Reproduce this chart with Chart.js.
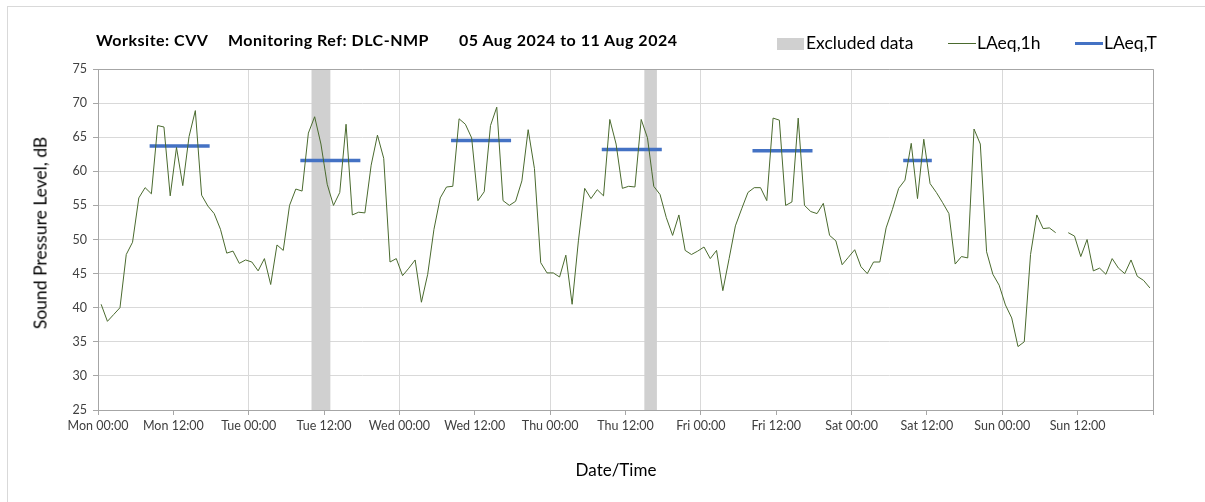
<!DOCTYPE html>
<html>
<head>
<meta charset="utf-8">
<script src="https://cdn.jsdelivr.net/npm/chart.js@4.4.1/dist/chart.umd.min.js"></script>
<style>
html, body { margin: 0; padding: 0; background: #fff; overflow: hidden; }
#wrap { position: relative; width: 1205px; height: 502px; font-family: Lato, "Open Sans", sans-serif; }
#frame { position: absolute; left: 7px; top: 6px; width: 1300px; height: 600px; border-left: 1px solid #d9d9d9; border-top: 1px solid #d9d9d9; }
#chart { position: absolute; left: 0; top: 0; }
.tt { position: absolute; top: 30px; font-size: 16px; font-weight: bold; letter-spacing: 0.5px; color: #000; white-space: pre; }
.lg { position: absolute; top: 32px; font-size: 17.5px; color: #000; white-space: pre; }
.sw { position: absolute; }
.ax { position: absolute; color: #000; white-space: pre; transform: translate(-50%, -50%); }
</style>
</head>
<body>
<div id="wrap">
  <div id="frame"></div>
  <canvas id="chart" width="1205" height="502"></canvas>
  <div class="tt" style="left:96px">Worksite: CVV</div>
  <div class="tt" style="left:228px">Monitoring Ref: DLC-NMP</div>
  <div class="tt" style="left:459px">05 Aug 2024 to 11 Aug 2024</div>
  <div class="sw" style="left:777px;top:38px;width:27px;height:12px;background:#d0d0d0"></div>
  <div class="lg" style="left:806px">Excluded data</div>
  <div class="sw" style="left:948px;top:43px;width:28px;height:1px;background:#4a6a2e"></div>
  <div class="lg" style="left:977px">LAeq,1h</div>
  <div class="sw" style="left:1075px;top:42px;width:28px;height:3px;background:#4472c4"></div>
  <div class="lg" style="left:1104px">LAeq,T</div>
  <div class="ax" style="left:40px;top:233px;font-size:17.5px;transform:translate(-50%,-50%) rotate(-90deg)">Sound Pressure Level, dB</div>
  <div class="ax" style="left:616px;top:469px;font-size:17px">Date/Time</div>
</div>
<script>
// hourly LAeq,1h values, Mon 00:00 .. Sun 23:00 (null = no data)
const laeq1h = [
  40.5, 38.0, 39.0, 40.0, 47.8, 49.6, 56.1, 57.6, 56.7, 66.7, 66.5, 56.4,
  63.5, 57.9, 65.1, 68.9, 56.5, 54.9, 53.8, 51.5, 48.0, 48.3, 46.5, 47.0,
  46.7, 45.4, 47.2, 43.4, 49.2, 48.4, 55.0, 57.4, 57.1, 65.6, 68.0, 64.0,
  58.1, 55.0, 56.9, 66.9, 53.6, 54.0, 53.9, 60.9, 65.3, 61.9, 46.7, 47.2,
  44.7, 45.8, 47.0, 40.8, 44.9, 51.5, 56.1, 57.7, 57.8, 67.7, 66.9, 64.9,
  55.7, 57.0, 66.7, 69.4, 55.7, 55.0, 55.6, 58.6, 66.1, 60.4, 46.6, 45.1,
  45.1, 44.5, 47.7, 40.5, 49.8, 57.5, 56.0, 57.3, 56.4, 67.6, 64.0, 57.5,
  57.8, 57.7, 67.6, 64.9, 57.8, 56.6, 53.2, 50.6, 53.6, 48.4, 47.8, 48.3,
  48.9, 47.2, 48.4, 42.5, 47.2, 52.0, 54.5, 56.9, 57.6, 57.6, 55.7, 67.8,
  67.5, 55.0, 55.5, 67.8, 55.0, 54.1, 53.8, 55.3, 50.6, 49.8, 46.3, 47.4,
  48.5, 46.0, 45.0, 46.7, 46.7, 51.7, 54.4, 57.5, 58.7, 64.1, 56.0, 64.7,
  58.2, 56.9, 55.4, 53.8, 46.4, 47.5, 47.3, 66.2, 64.0, 48.2, 44.9, 43.3,
  40.4, 38.5, 34.3, 35.0, 47.8, 53.6, 51.6, 51.7, 51.0, null, 51.0, 50.5,
  47.5, 50.0, 45.4, 45.8, 44.9, 47.2, 45.8, 45.0, 47.0, 44.6, 44.0, 42.9
];

// LAeq,T periods (hours from Mon 00:00) and levels
const ltStart = [8.5, 32.5, 56.5, 80.5, 104.5, 128.5];
const ltEnd   = [17.5, 41.5, 65.5, 89.5, 113.5, 132.5];
const ltValue = [63.7, 61.6, 64.5, 63.2, 63.0, 61.6];

// excluded periods (hours from Mon 00:00)
const exStart = [34, 87];
const exEnd   = [37, 89];

const days = ['Mon', 'Tue', 'Wed', 'Thu', 'Fri', 'Sat', 'Sun'];
const tickTimes = ['00:00', '12:00'];

const lineData = laeq1h.map(function(v, i) { return { x: i + 0.5, y: v }; });
const ltData = [];
ltStart.forEach(function(s, i) {
  ltData.push({ x: s, y: ltValue[i] });
  ltData.push({ x: ltEnd[i], y: ltValue[i] });
  ltData.push({ x: ltEnd[i] + 0.1, y: null });
});

const bandsPlugin = {
  id: 'bands',
  beforeDatasetsDraw: function(chart) {
    const ctx = chart.ctx, xs = chart.scales.x, a = chart.chartArea;
    ctx.save();
    ctx.fillStyle = '#d0d0d0';
    exStart.forEach(function(s, i) {
      const x1 = xs.getPixelForValue(s), x2 = xs.getPixelForValue(exEnd[i]);
      ctx.fillRect(x1, a.top, x2 - x1, a.bottom - a.top);
    });
    ctx.restore();
  },
  afterDraw: function(chart) {
    const ctx = chart.ctx, a = chart.chartArea;
    ctx.save();
    ctx.strokeStyle = '#a6a6a6';
    ctx.lineWidth = 1;
    ctx.beginPath();
    ctx.moveTo(Math.round(a.left) + 0.5, Math.round(a.top) + 0.5);
    ctx.lineTo(Math.round(a.right) + 0.5, Math.round(a.top) + 0.5);
    ctx.lineTo(Math.round(a.right) + 0.5, Math.round(a.bottom) + 0.5);
    ctx.stroke();
    ctx.restore();
  }
};

const tickFont = { family: 'Lato, "Open Sans", sans-serif', size: 12.5 };

new Chart(document.getElementById('chart'), {
  type: 'line',
  data: {
    datasets: [
      { label: 'LAeq,1h', data: lineData, borderColor: '#4a6a2e', borderWidth: 1, pointRadius: 0, spanGaps: false, tension: 0 },
      { label: 'LAeq,T', data: ltData, borderColor: '#4472c4', borderWidth: 3.5, borderCapStyle: 'square', pointRadius: 0, spanGaps: false }
    ]
  },
  options: {
    responsive: false,
    animation: false,
    events: [],
    layout: { padding: { left: 0, top: 69, right: 52, bottom: 0 } },
    plugins: { legend: { display: false }, tooltip: { enabled: false } },
    scales: {
      x: {
        type: 'linear',
        min: 0,
        max: 168,
        afterFit: function(s) { s.height = 92; },
        afterBuildTicks: function(s) {
          s.ticks = [];
          for (let h = 0; h <= 168; h += 12) s.ticks.push({ value: h });
        },
        ticks: {
          autoSkip: false,
          maxRotation: 0,
          padding: 3,
          color: '#404040',
          font: tickFont,
          callback: function(v) {
            if (v >= 168) return '';
            return days[Math.floor(v / 24)] + ' ' + tickTimes[(v % 24) / 12];
          }
        },
        grid: {
          color: function(c) { return c.tick && c.tick.value % 24 === 0 ? '#d9d9d9' : 'rgba(0,0,0,0)'; },
          tickColor: '#a6a6a6',
          tickLength: 5
        },
        border: { color: '#a6a6a6' }
      },
      y: {
        min: 25,
        max: 75,
        afterFit: function(s) { s.width = 98; },
        ticks: { stepSize: 5, padding: 6, color: '#404040', font: tickFont },
        grid: { color: '#d9d9d9', tickColor: '#a6a6a6', tickLength: 5 },
        border: { color: '#a6a6a6' }
      }
    }
  },
  plugins: [bandsPlugin]
});
</script>
</body>
</html>
